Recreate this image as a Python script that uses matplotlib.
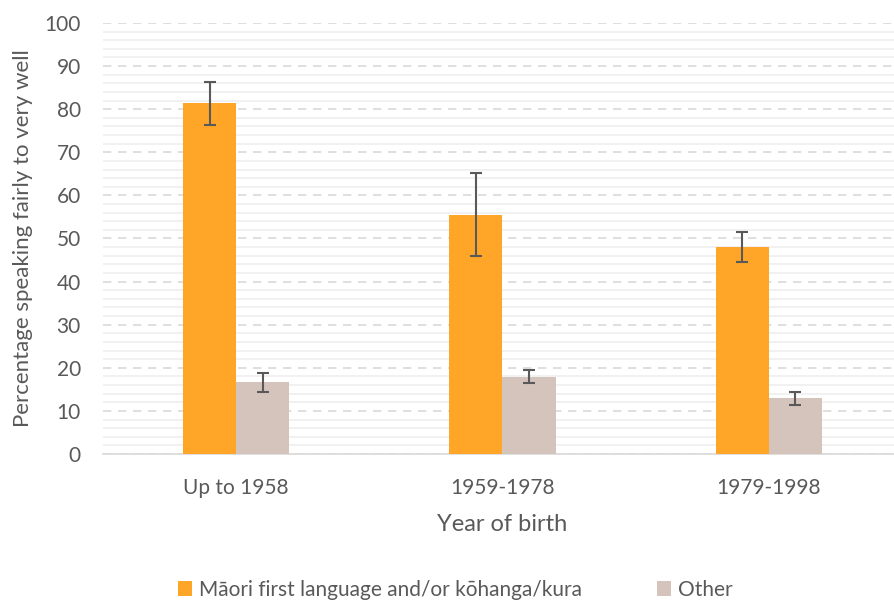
import numpy as np
import matplotlib
matplotlib.use("Agg")
import matplotlib.pyplot as plt
from matplotlib.ticker import MultipleLocator

categories = ["Up to 1958", "1959-1978", "1979-1998"]
maori_values = [81.4, 55.5, 48.0]
maori_err = [5.0, 9.6, 3.5]
other_values = [16.6, 17.9, 12.9]
other_err = [2.1, 1.5, 1.5]
series_names = ["Māori first language and/or kōhanga/kura", "Other"]

TEXT = "#595959"
plt.rcParams["font.family"] = ["Lato", "DejaVu Sans"]

fig = plt.figure(figsize=(8.94, 6.04), dpi=100)
ax = fig.add_axes([103 / 894, 1 - 454 / 604, 799 / 894, 431 / 604])

x = np.arange(len(categories))
w = 0.2
err_kw = dict(ecolor="#595959", elinewidth=1.5, capsize=4, capthick=1.5)
ax.bar(x - w / 2, maori_values, w, yerr=maori_err, color="#FFA629",
       label=series_names[0], error_kw=err_kw, zorder=3)
ax.bar(x + w / 2, other_values, w, yerr=other_err, color="#D5C4BC",
       label=series_names[1], error_kw=err_kw, zorder=3)

ax.set_xlim(-0.5, 2.5)
ax.set_ylim(0, 100)
ax.yaxis.set_major_locator(MultipleLocator(10))
ax.yaxis.set_minor_locator(MultipleLocator(2))
ax.grid(axis="y", which="minor", color="#EFEFEF", linewidth=1.2, zorder=0)
ax.grid(axis="y", which="major", color="#D9D9D9", linewidth=1.2,
        linestyle=(0, (5, 4)), zorder=1)

ax.set_xticks(x)
ax.set_xticklabels(categories)
ax.tick_params(axis="both", which="both", length=0, colors=TEXT, labelsize=15)
ax.tick_params(axis="x", pad=17)
ax.tick_params(axis="y", pad=16)
for s in ["top", "right", "left"]:
    ax.spines[s].set_visible(False)
ax.spines["bottom"].set_color("#D9D9D9")
ax.spines["bottom"].set_linewidth(1.2)

ax.set_ylabel("Percentage speaking fairly to very well", color=TEXT, fontsize=16,
              labelpad=8)
ax.set_xlabel("Year of birth", color=TEXT, fontsize=17, labelpad=12)

leg = fig.legend(loc="center", bbox_to_anchor=(455 / 894, 1 - 590 / 604), ncol=2,
                 frameon=False, fontsize=15, handlelength=0.7, handleheight=0.7,
                 columnspacing=3.6, handletextpad=0.3)
for t in leg.get_texts():
    t.set_color(TEXT)

fig.savefig("out.png", dpi=100)
